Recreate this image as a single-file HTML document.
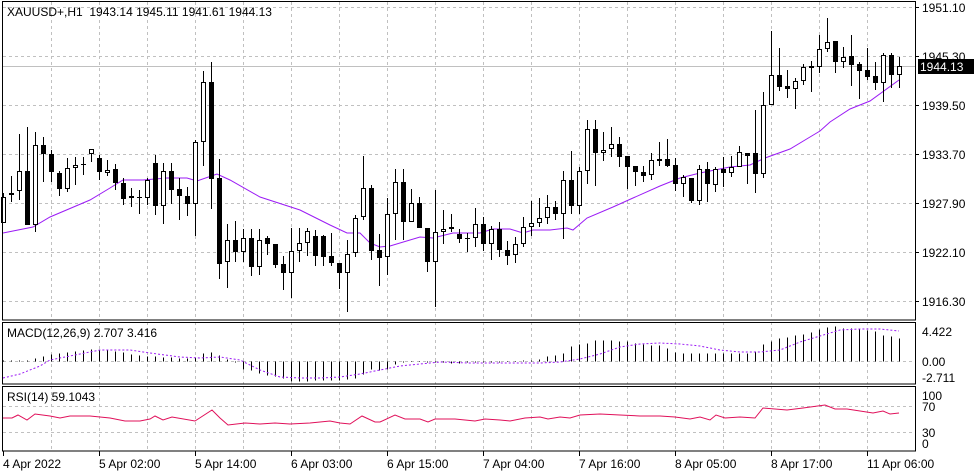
<!DOCTYPE html>
<html><head><meta charset="utf-8"><style>
html,body{margin:0;padding:0;background:#fff;}
svg{display:block;font-family:"Liberation Sans",sans-serif;font-size:12px;}
</style></head><body>
<svg id="s" width="980" height="475" xmlns="http://www.w3.org/2000/svg"></svg>
<script>
var s=document.getElementById('s');var h='';
function L(x1,y1,x2,y2,c,d,w){h+='<line x1="'+x1+'" y1="'+y1+'" x2="'+x2+'" y2="'+y2+'" stroke="'+c+'" stroke-width="'+(w||1)+'"'+(d?' stroke-dasharray="'+d+'"':'')+'/>';}
function T(x,y,t,c,a){h+='<text x="'+x+'" y="'+y+'" fill="'+(c||'#000')+'"'+(a?' text-anchor="'+a+'"':'')+'>'+t+'</text>';}
function P(pts,c,d){h+='<polyline fill="none" stroke="'+c+'" stroke-width="1"'+(d?' stroke-dasharray="'+d+'"':'')+' points="'+pts.map(function(p){return p[0]+','+p[1]}).join(' ')+'"/>';}
var G='#c0c0c0',D='3,3';
for(var x=51;x<915;x+=48){L(x+.5,2,x+.5,320,G,D);L(x+.5,322,x+.5,384,G,D);L(x+.5,386,x+.5,451,G,D);}
[7,56,105,154,203,252,301].forEach(function(y){L(3,y+.5,915,y+.5,G,D);});
L(3,66.5,915,66.5,'#c0c0c0');
L(3,361.5,915,361.5,G,D);
L(3,406.5,915,406.5,G,D);L(3,432.5,915,432.5,G,D);
// MA
P([[3,233],[33,227],[50,217],[90,200],[110,188],[123,180],[143,180],[167,178],[187,178],[197,181],[217,174],[230,180],[260,197],[300,210],[330,225],[347,233],[360,233],[370,243],[380,247],[390,246],[420,237],[433,238],[453,233],[480,233],[493,229],[510,229],[523,233],[533,230],[550,230],[567,228],[573,230],[587,218],[613,207],[633,198],[660,186],[680,178],[700,173],[730,167],[750,165],[765,158],[790,149],[810,137],[820,131],[830,122],[850,109],[870,101],[899,80]],'#9b1bf5');
var C=[[1,197,223,193,223],[1,193,195,176,202],[1,171,191,134,200],[0,171,225,127,225],[1,145,225,132,232],[0,145,154,137,182],[0,154,172,150,182],[0,173,189,171,196],[1,168,189,158,192],[1,165,168,157,185],[0,164,165,157,175],[1,149,154,149,162],[0,158,172,155,180],[1,170,173,160,176],[0,169,183,164,190],[0,183,199,178,205],[1,196,198,188,207],[0,197,198,190,214],[1,180,198,178,205],[0,163,206,155,215],[1,171,206,163,224],[0,171,190,163,204],[0,189,196,178,220],[0,196,204,187,216],[1,142,204,140,236],[1,82,142,71,166],[0,82,179,62,209],[0,178,264,159,279],[1,240,262,224,288],[0,240,252,221,262],[1,238,252,229,262],[0,238,267,229,276],[1,240,267,229,275],[0,238,244,236,255],[0,244,265,244,268],[0,264,273,256,290],[1,251,273,228,298],[1,243,251,228,262],[1,231,243,228,256],[0,236,256,230,266],
[0,236,257,235,266],[0,256,263,233,266],[0,263,273,263,289],[1,254,273,240,312],[1,218,253,215,257],[1,188,217,156,220],[0,188,251,185,260],[0,250,258,234,286],[1,214,257,198,275],[1,182,214,169,240],[0,182,222,169,240],[1,203,222,189,222],[0,203,228,197,228],[0,228,262,228,272],[1,232,262,190,307],[1,229,232,210,244],[0,227,229,214,232],[0,234,239,229,243],[0,238,239,233,252],[1,224,238,208,247],[0,224,244,217,251],[1,229,244,226,260],[0,229,250,222,257],[0,250,256,241,265],[1,244,255,237,263],[1,227,244,217,247],[1,223,227,201,236],[1,218,223,198,227],[1,207,218,195,224],[0,207,214,201,220],[1,180,214,171,239],[0,180,206,151,214],[1,171,206,167,214],[1,129,171,120,184],[0,129,153,120,186],[1,150,153,132,161],[1,144,149,127,157],[0,144,157,137,167],[0,156,167,156,189],[0,166,172,166,186],[0,172,176,166,182],[1,160,175,153,180],
[0,159,161,142,166],[0,159,166,139,167],[0,165,184,158,191],[1,177,184,175,197],[0,178,201,178,203],[1,169,201,165,205],[0,169,184,162,202],[1,169,185,167,192],[0,169,173,157,187],[1,167,173,156,177],[1,152,167,146,167],[0,153,156,153,184],[0,153,174,110,193],[1,105,174,92,178],[1,75,105,31,105],[0,75,87,48,91],[0,86,89,70,98],[1,81,89,78,109],[1,67,81,64,85],[0,66,68,61,92],[1,49,67,35,73],[1,42,49,18,52],[0,41,62,41,73],[1,57,62,47,68],[0,56,65,35,86],[0,64,71,62,99],[0,70,77,48,80],[0,76,83,62,90],[1,55,83,53,102],[0,55,75,53,88],[1,66,75,57,88]];
C.forEach(function(c,i){var x=3+8*i+.5;L(x,c[3],x,c[4],'#000');
 var bh=Math.max(c[2]-c[1],1);
 if(c[0])h+='<rect x="'+(x-2)+'" y="'+(c[1]+.5)+'" width="4" height="'+Math.max(bh-1,0)+'" fill="#fff" stroke="#000"/>';
 else h+='<rect x="'+(x-2.5)+'" y="'+c[1]+'" width="5" height="'+bh+'" fill="#000"/>';});
var M=[1,1,1,1,3,5,7,8,9,10,11,12,12,11,10,9,7,6,5,5,4,4,3,3,4,8,9,6,2,-1,-8,-9,-12,-14,-15,-17,-20,-20,-20,-19,-19,-19,-19,-18,-17,-13,-8,-9,-8,-3,-1,0,0,-1,-1,-1,-2,-2,-1,-1,-1,-1,-1,0,0,1,1,2,5,6,8,15,17,18,21,21,21,20,20,18,17,16,16,13,9,8,8,8,8,8,8,8,8,8,10,17,20,23,24,26,27,29,32,34,35,33,33,32,31,30,26,25,23];
M.forEach(function(v,i){var x=3+8*i+.5;if(v==0)v=0.5;L(x,361.5,x,361.5-v,'#000');});
P([[3,378],[20,374],[40,366],[50,360],[70,356],[90,352],[100,350],[130,350],[150,353],[180,357],[200,358],[220,357],[240,360],[260,370],[280,377],[300,378],[320,378],[340,377],[360,374],[380,370],[400,366],[420,364],[440,362],[470,363],[520,363],[540,363],[560,362],[580,359],[600,354],[620,347],[640,344],[660,343],[680,344],[700,346],[720,350],[740,352],[760,352],[780,350],[800,342],[820,336],[840,330],[860,329],[880,329],[899,331]],'#9b1bf5','2,2');
P([[3,418],[12,418],[18,415],[27,420],[35,414],[50,416],[60,418],[70,416],[90,416],[100,417],[110,418],[125,421],[140,421],[150,419],[155,416],[163,420],[172,417],[195,421],[212,410],[220,418],[228,425],[245,423],[260,424],[275,423],[290,424],[310,423],[330,421],[340,423],[350,424],[362,416],[375,422],[380,422],[395,415],[405,419],[420,419],[428,422],[435,419],[455,419],[475,421],[485,419],[500,420],[510,421],[525,418],[540,417],[548,419],[560,417],[570,418],[580,415],[600,414],[620,415],[640,416],[660,416],[675,417],[690,419],[700,417],[710,420],[716,415],[725,418],[740,417],[755,418],[763,408],[787,410],[803,408],[825,405],[835,409],[847,409],[873,413],[883,411],[890,414],[899,413]],'#e0105a');
h+='<rect x="2.5" y="1.5" width="913" height="318.5" fill="none" stroke="#000"/>';
h+='<rect x="2.5" y="322.5" width="913" height="61.5" fill="none" stroke="#000"/>';
h+='<rect x="2.5" y="386.5" width="913" height="64.5" fill="none" stroke="#000"/>';
[[7,'1951.10'],[56,'1945.30'],[105,'1939.50'],[154,'1933.70'],[203,'1927.90'],[252,'1922.10'],[301,'1916.30']].forEach(function(a){L(915,a[0]+.5,919,a[0]+.5,'#000');T(922,a[0]+5,a[1]);});
h+='<rect x="918" y="59" width="56" height="15" fill="#000"/>';T(920,71,'1944.13','#fff');
T(922,336,'4.422');T(922,366,'0.00');T(922,382,'-2.711');
T(922,400,'100');T(922,411,'70');T(922,437,'30');T(922,448,'0');
['4 Apr 2022','5 Apr 02:00','5 Apr 14:00','6 Apr 03:00','6 Apr 15:00','7 Apr 04:00','7 Apr 16:00','8 Apr 05:00','8 Apr 17:00','11 Apr 06:00'].forEach(function(t,i){var x=3+96*i;L(x+.5,451,x+.5,456,'#000');T(x,468,t);});
T(7,16,'XAUUSD+,H1&#160; 1943.14 1945.11 1941.61 1944.13');
T(7,337,'MACD(12,26,9) 2.707 3.416');
T(7,401,'RSI(14) 59.1043');
s.innerHTML=h;
</script>
</body></html>
